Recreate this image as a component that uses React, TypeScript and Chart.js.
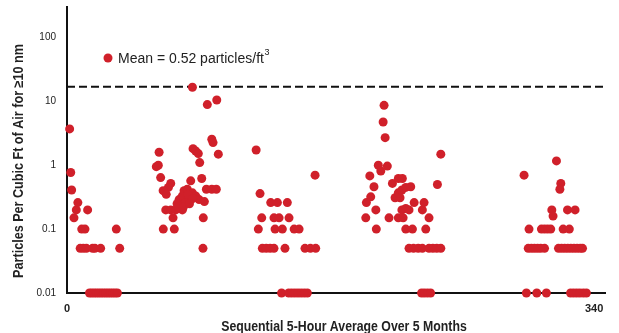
import React, { useEffect, useRef } from 'react';
import { Chart, registerables } from 'chart.js';

Chart.register(...registerables);

const FONT = '"Liberation Sans Narrow", "Arial Narrow", "Liberation Sans", Arial, sans-serif';
const RED = '#d0202a';

// Axis ticks and labels
const yTickValues = [0.01, 0.1, 1, 10, 100];
const xTickValues = [0, 340];
const xAxisTitle = 'Sequential 5-Hour Average Over 5 Months';
const yAxisTitle = 'Particles Per Cubic Ft of Air for \u226510 nm';
const meanLabel = 'Mean = 0.52 particles/ft';
const meanLabelSup = '3';
const thresholdLevel = 17;

// Cluster 1 (samples ~0-35)
const c1X = [1.7, 2.4, 3, 4.5, 6, 7, 13.3, 9.5, 11.6, 31.8, 8.5, 10.5, 12.5, 16.5, 18, 21.7, 34,
  14.5, 16, 17.5, 19, 20.5, 22, 23.5, 25, 26.5, 28, 29.5, 31, 32.5];
const c1Y = [3.7, 0.77, 0.41, 0.15, 0.2, 0.26, 0.2, 0.1, 0.1, 0.1, 0.05, 0.05, 0.05, 0.05, 0.05, 0.05, 0.05,
  0.01, 0.01, 0.01, 0.01, 0.01, 0.01, 0.01, 0.01, 0.01, 0.01, 0.01, 0.01, 0.01];

// Cluster 2 (samples ~57-98)
const c2X = [59.4, 57.6, 58.9, 60.4, 66.9, 65.4, 62, 64, 63.7, 66.9, 70.1, 74.4, 62.1, 69.2, 68.4,
  73.4, 72.3, 74.4, 75.5, 77.6, 79.8, 80.9, 83, 85.2, 76.5, 78.5, 71, 72, 75, 78, 81, 79,
  80.9, 90.5, 96.6, 81.3, 83, 84.7, 85.6, 86.9, 93.4, 94.2, 97.6, 89.9, 93.4, 96.3, 88.6, 87.9, 87.7];
const c2Y = [1.6, 0.95, 1.0, 0.64, 0.52, 0.45, 0.4, 0.35, 0.2, 0.2, 0.2, 0.2, 0.1, 0.1, 0.15,
  0.26, 0.29, 0.33, 0.4, 0.42, 0.57, 0.37, 0.33, 0.29, 0.26, 0.3, 0.25, 0.22, 0.22, 0.35, 0.3, 0.25,
  16.6, 8.9, 10.5, 1.82, 1.67, 1.52, 1.1, 0.62, 2.55, 2.26, 1.49, 0.42, 0.42, 0.42, 0.27, 0.15, 0.05];

// Cluster 3 (samples ~122-161)
const c3X = [122, 124.5, 131.4, 135.7, 142.1, 125.6, 133.5, 136.8, 143.2, 123.4, 134.2, 138.9, 146.5, 149.7,
  126, 128.5, 131, 133.5, 140.6, 153.5, 157, 160.4, 160,
  138.4, 143, 145, 147, 149, 151, 153, 155];
const c3Y = [1.73, 0.36, 0.26, 0.26, 0.26, 0.15, 0.15, 0.15, 0.15, 0.1, 0.1, 0.1, 0.1, 0.1,
  0.05, 0.05, 0.05, 0.05, 0.05, 0.05, 0.05, 0.05, 0.7,
  0.01, 0.01, 0.01, 0.01, 0.01, 0.01, 0.01, 0.01];

// Cluster 4 (samples ~192-242)
const c4X = [204.5, 203.9, 205.2, 200.8, 206.6, 202.4, 195.3, 198, 195.9, 193.1, 192.7, 199.2, 199.5, 207.7,
  209.9, 213.7, 216.3, 211.6, 214.8, 213.7, 216, 218.5, 221.7, 216, 218.5, 220.6, 213.7, 216.8,
  223.9, 230.3, 229.2, 233.5, 218.5, 222.8, 231.4,
  220.6, 223.5, 226.5, 229.2, 233.5, 236, 238.5, 241.1, 241.1, 238.9,
  228.7, 230.5, 232.5, 234.5];
const c4Y = [8.66, 4.76, 2.7, 1.0, 0.97, 0.81, 0.68, 0.46, 0.32, 0.26, 0.15, 0.2, 0.1, 0.15,
  0.52, 0.62, 0.62, 0.31, 0.31, 0.37, 0.41, 0.45, 0.46, 0.2, 0.21, 0.2, 0.15, 0.15,
  0.26, 0.26, 0.2, 0.15, 0.1, 0.1, 0.1,
  0.05, 0.05, 0.05, 0.05, 0.05, 0.05, 0.05, 0.05, 1.49, 0.5,
  0.01, 0.01, 0.01, 0.01];

// Cluster 5 (samples ~294-336)
const c5X = [294.8, 315.7, 318.5, 317.9, 312.7, 313.5, 322.8, 327.7,
  298, 306, 308, 310, 312, 320, 324,
  297.5, 299.5, 301.5, 303.5, 305.5, 308,
  317, 319, 321, 323, 325, 327, 329, 331, 332.5,
  296.3, 303, 309.2, 324.8, 326.8, 328.8, 330.8, 333, 335];
const c5Y = [0.7, 1.17, 0.52, 0.42, 0.2, 0.16, 0.2, 0.2,
  0.1, 0.1, 0.1, 0.1, 0.1, 0.1, 0.1,
  0.05, 0.05, 0.05, 0.05, 0.05, 0.05,
  0.05, 0.05, 0.05, 0.05, 0.05, 0.05, 0.05, 0.05, 0.05,
  0.01, 0.01, 0.01, 0.01, 0.01, 0.01, 0.01, 0.01, 0.01];

const clustersX = [c1X, c2X, c3X, c4X, c5X];
const clustersY = [c1Y, c2Y, c3Y, c4Y, c5Y];

const annotationPlugin = {
  id: 'customText',
  afterDraw(chart: any) {
    const { ctx, chartArea } = chart;
    ctx.save();
    // mean legend
    const lx = chartArea.left + 41;
    const ly = 58;
    ctx.fillStyle = RED;
    ctx.beginPath();
    ctx.arc(lx, ly, 4.5, 0, Math.PI * 2);
    ctx.fill();
    ctx.fillStyle = '#222';
    ctx.textBaseline = 'middle';
    ctx.textAlign = 'left';
    ctx.font = `14px ${FONT}`;
    ctx.fillText(meanLabel, lx + 10, ly + 1);
    const w = ctx.measureText(meanLabel).width;
    ctx.font = `9px ${FONT}`;
    ctx.fillText(meanLabelSup, lx + 10 + w + 0.5, ly - 5);
    ctx.restore();

    // x-axis title (condensed)
    ctx.save();
    ctx.font = `bold 15px ${FONT}`;
    ctx.textAlign = 'center';
    ctx.textBaseline = 'alphabetic';
    ctx.fillStyle = '#222';
    ctx.translate(344, 331);
    ctx.scale(0.82, 1);
    ctx.fillText(xAxisTitle, 0, 0);
    ctx.restore();

    // y-axis title (condensed)
    ctx.save();
    ctx.fillStyle = '#222';
    ctx.translate(19, 161);
    ctx.rotate(-Math.PI / 2);
    ctx.scale(0.9, 1);
    ctx.font = `bold 14px ${FONT}`;
    ctx.textAlign = 'center';
    ctx.textBaseline = 'middle';
    ctx.fillText(yAxisTitle, 0, 0);
    ctx.restore();
  },
};

export default function App() {
  const ref = useRef<HTMLCanvasElement | null>(null);
  useEffect(() => {
    if (!ref.current) return;
    const points: { x: number; y: number }[] = [];
    clustersX.forEach((xs, ci) => {
      xs.forEach((x, i) => points.push({ x, y: clustersY[ci][i] }));
    });
    const chart = new Chart(ref.current, {
      type: 'scatter',
      data: {
        datasets: [
          {
            data: points,
            backgroundColor: RED,
            borderColor: RED,
            borderWidth: 0,
            pointRadius: 4.5,
            order: 0,
            clip: false as any,
          },
          {
            data: [
              { x: 0, y: thresholdLevel },
              { x: 347, y: thresholdLevel },
            ],
            showLine: true,
            borderColor: '#111',
            borderWidth: 2,
            borderDash: [8, 4],
            pointRadius: 0,
            order: 1,
          } as any,
        ],
      },
      options: {
        animation: false,
        responsive: false,
        maintainAspectRatio: false,
        layout: { padding: { top: 7, right: 14, left: 0, bottom: 0 } },
        plugins: { legend: { display: false }, tooltip: { enabled: false } },
        scales: {
          x: {
            type: 'linear',
            min: 0,
            max: 347,
            grid: { display: false, drawTicks: false },
            border: { display: true, color: '#111', width: 2 },
            ticks: { color: '#222', font: { family: FONT, size: 11, weight: 'bold' }, padding: 9, maxRotation: 0 },
            afterBuildTicks: (s: any) => {
              s.ticks = xTickValues.map((v) => ({ value: v }));
            },
            afterFit: (s: any) => {
              s.height = 40;
              s.paddingLeft = 0;
              s.paddingRight = 0;
            },
          },
          y: {
            type: 'logarithmic',
            min: 0.01,
            max: 300,
            grid: { display: false, drawTicks: false },
            border: { display: true, color: '#111', width: 2 },
            ticks: {
              color: '#222',
              font: { family: FONT, size: 10 },
              padding: 11,
              callback: (v: any) => String(v),
            },
            afterBuildTicks: (s: any) => {
              s.ticks = yTickValues.map((v) => ({ value: v }));
            },
            afterFit: (s: any) => {
              s.width = 67;
              s.paddingTop = 0;
              s.paddingBottom = 0;
            },
          },
        },
      },
      plugins: [annotationPlugin],
    });
    return () => chart.destroy();
  }, []);
  return (
    <div style={{ position: 'fixed', left: 0, top: 0, width: 619, height: 333, background: '#fff' }}>
      <canvas ref={ref} width={619} height={333} style={{ display: 'block' }} />
    </div>
  );
}
